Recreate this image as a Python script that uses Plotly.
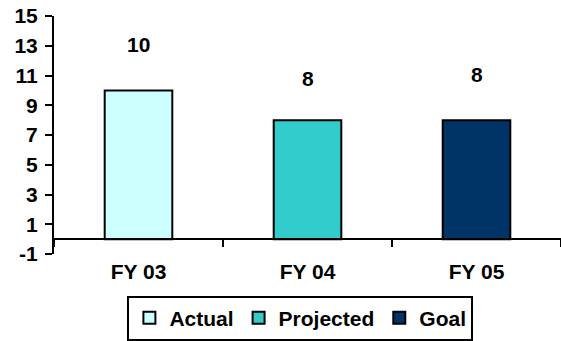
import plotly.graph_objects as go

# Fiscal-year totals: actual, projected and goal
categories = ["FY 03", "FY 04", "FY 05"]
series_names = ["Actual", "Projected", "Goal"]
values = [10, 8, 8]
y_tick_values = [-1, 1, 3, 5, 7, 9, 11, 13, 15]
y_tick_labels = ["-1", "1", "3", "5", "7", "9", "11", "13", "15"]

colors = ["#CCFFFF", "#33CCCC", "#003366"]
label_shift = [46, 42, 46]  # pixel lift of each value label above its bar
FONT = "Liberation Sans, Arial, sans-serif"
FS = 21

fig = go.Figure()
for name, cat, val, col in zip(series_names, categories, values, colors):
    fig.add_trace(go.Bar(
        name=f"<b>{name}</b>", x=[cat], y=[val],
        marker=dict(color=col, line=dict(color="black", width=2)),
    ))

for cat, val, dy in zip(categories, values, label_shift):
    fig.add_annotation(
        x=cat, y=val, text=f"<b>{val}</b>", showarrow=False,
        yanchor="middle", yshift=dy,
        font=dict(family=FONT, size=FS, color="black"),
    )

fig.update_layout(
    width=561, height=341,
    margin=dict(l=54, r=0, t=16, b=83),
    paper_bgcolor="white", plot_bgcolor="white",
    barmode="overlay", bargap=0.6,
    font=dict(family=FONT, size=FS, color="black"),
    showlegend=True,
    legend=dict(
        orientation="h", x=0.486, xanchor="center", y=-0.175, yanchor="top",
        bordercolor="black", borderwidth=2, bgcolor="white",
        font=dict(family=FONT, size=FS, color="black"),
        itemwidth=30, tracegroupgap=0,
    ),
    xaxis=dict(
        anchor="free", position=1 / 16,
        showline=True, linecolor="black", linewidth=2,
        ticks="outside", ticklen=7, tickwidth=2, tickcolor="black",
        tickson="boundaries", showgrid=False, zeroline=False,
        tickmode="array", tickvals=categories,
        ticktext=[f"<b>{c}</b>" for c in categories],
        tickfont=dict(family=FONT, size=FS, color="black"),
        ticklabelstandoff=14,
    ),
    yaxis=dict(
        range=[-1, 15], tickmode="array", tickvals=y_tick_values,
        ticktext=[f"<b>{t}</b>" for t in y_tick_labels],
        showline=True, linecolor="black", linewidth=2,
        ticks="outside", ticklen=7, tickwidth=2, tickcolor="black",
        showgrid=False, zeroline=False,
        tickfont=dict(family=FONT, size=FS, color="black"),
        ticklabelstandoff=3,
    ),
)

fig.write_html("out.html")
